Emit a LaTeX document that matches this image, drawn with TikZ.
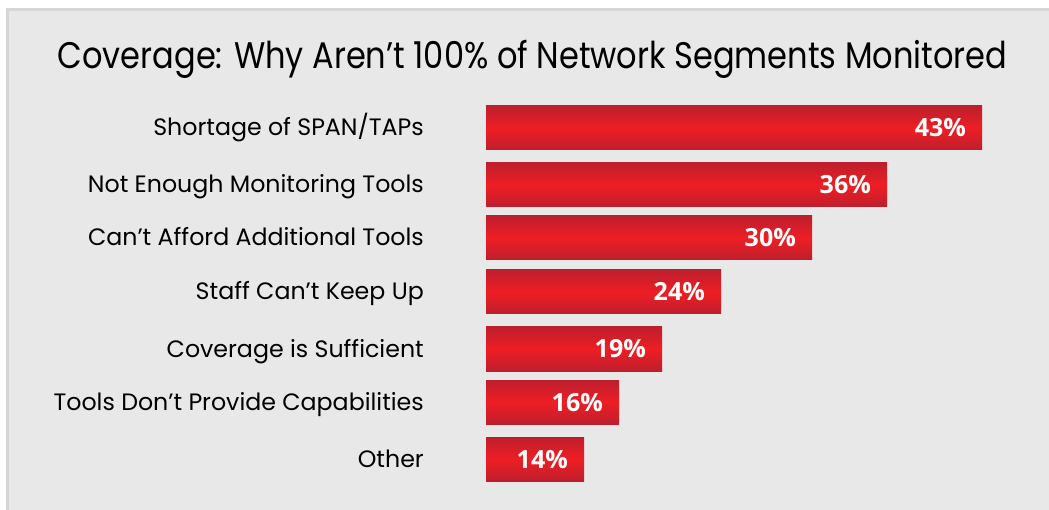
\documentclass[tikz,border=0pt]{standalone}
\usepackage{fontspec}
\setmainfont{Poppins}
\newfontfamily\titlefont{Poppins}[FakeStretch=0.866]
\newfontfamily\valuefont{Open Sans}
\usetikzlibrary{positioning}
\definecolor{panelgray}{RGB}{232,232,232}
\definecolor{panelline}{RGB}{214,214,214}
\definecolor{bardark}{RGB}{190,30,45}
\definecolor{barlight}{RGB}{238,30,36}
\tikzset{
  reason/.style={anchor=base east, inner sep=0pt, font=\fontsize{23.7}{24}\selectfont},
  bar/.style={top color=bardark, bottom color=bardark, middle color=barlight},
  pct/.style={anchor=base east, inner sep=0pt, text=white, font=\valuefont\bfseries\fontsize{25}{25}\selectfont},
}
\begin{document}
\begin{tikzpicture}[x=1pt, y=-1pt]
\useasboundingbox (0,0) rectangle (1049,510);
% panel
\fill[panelgray] (7.5,9.5) rectangle (1049,510);
\draw[panelline, line width=3pt] (7.5,510) -- (7.5,9.5) -- (1049,9.5);
\node[anchor=base, inner sep=0pt, font=\titlefont\fontsize{37}{37}\selectfont] (title) at (532.5,69) {Coverage: Why Aren’t 100\% of Network Segments Monitored};
% bars: top, right end, reason, value
\foreach \top/\len/\why/\val [count=\i] in {
  106/982/{Shortage of SPAN/TAPs}/43,
  163/887/Not Enough Monitoring Tools/36,
  216/812/Can’t Afford Additional Tools/30,
  270/721/Staff Can’t Keep Up/24,
  327/662/Coverage is Sufficient/19,
  380/619/Tools Don’t Provide Capabilities/16,
  437/584/Other/14}{
  \shade[bar] (486,\top) rectangle (\len,\top+44);
  \node[reason] (why\i) at (424,\top+30) {\why};
  \node[pct] (val\i) at (\len-16,\top+31) {\val\%};
}
\end{tikzpicture}
\end{document}
